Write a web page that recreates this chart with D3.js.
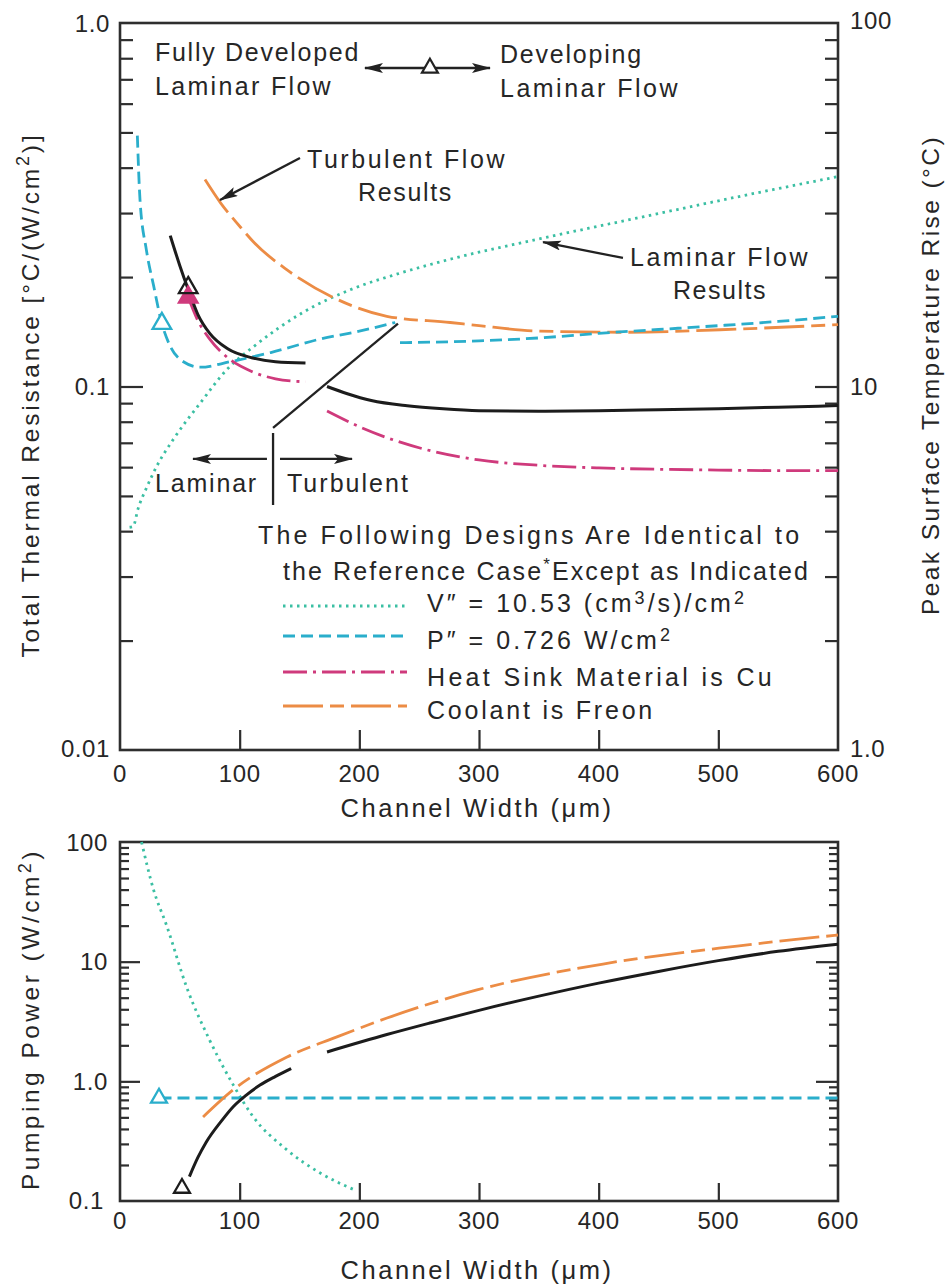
<!DOCTYPE html>
<html>
<head>
<meta charset="utf-8">
<script src="https://cdn.jsdelivr.net/npm/d3@7"></script>
<style>
  body { margin: 0; background: #fff; }
  text { font-family: "Liberation Sans", Arial, Helvetica, sans-serif; fill: #262626; }
</style>
</head>
<body>
<svg id="chart" width="951" height="1287"></svg>
<script>
// ---------------- data ----------------
// channel width axis (µm)
const widthTicks = [0, 100, 200, 300, 400, 500, 600];
const resistanceTicks = [0.01, 0.1, 1];
const resistanceTickLabels = ["0.01", "0.1", "1.0"];
const tempTicks = [1, 10, 100];
const tempTickLabels = ["1.0", "10", "100"];
const powerTicks = [0.1, 1, 10, 100];
const powerTickLabels = ["0.1", "1.0", "10", "100"];

// thermal resistance, reference case, laminar and turbulent branches
const refLamW = [42, 50, 57, 65, 75, 90, 110, 130, 155];
const refLamR = [0.26, 0.215, 0.185, 0.158, 0.140, 0.127, 0.120, 0.117, 0.116];
const refTurbW = [173, 190, 210, 240, 270, 300, 350, 400, 450, 500, 550, 600];
const refTurbR = [0.100, 0.0955, 0.0915, 0.0885, 0.0868, 0.0858, 0.0855, 0.0858, 0.0863, 0.0869, 0.0877, 0.0886];

// heat sink material Cu
const cuLamW = [57, 65, 75, 90, 110, 130, 155];
const cuLamR = [0.176, 0.152, 0.135, 0.120, 0.110, 0.105, 0.103];
const cuTurbW = [173, 200, 230, 260, 300, 350, 400, 450, 500, 550, 600];
const cuTurbR = [0.0856, 0.0775, 0.071, 0.0665, 0.0628, 0.0607, 0.0597, 0.0592, 0.0589, 0.0587, 0.0587];

// fixed pumping power P'' = 0.726 W/cm²
const ppLamW = [14.5, 16.7, 22, 28, 35, 42, 53, 67, 92, 126, 167, 200, 230];
const ppLamR = [0.49, 0.327, 0.238, 0.19, 0.149, 0.129, 0.117, 0.113, 0.117, 0.124, 0.135, 0.142, 0.150];
const ppTurbW = [234, 300, 350, 400, 450, 500, 550, 600];
const ppTurbR = [0.132, 0.1335, 0.136, 0.140, 0.1435, 0.147, 0.151, 0.156];

// fixed flow V'' = 10.53 (cm³/s)/cm²
const vfW = [8, 11, 15, 22, 31, 45, 67, 90, 112, 153, 195, 234, 276, 351, 435, 519, 600];
const vfR = [0.0410, 0.0412, 0.046, 0.0525, 0.0606, 0.0719, 0.090, 0.112, 0.129, 0.160, 0.186, 0.205, 0.224, 0.255, 0.292, 0.334, 0.378];

// coolant Freon
const frW = [71, 84, 100, 112, 139, 181, 223, 276, 300, 351, 421, 519, 600];
const frR = [0.371, 0.32, 0.276, 0.249, 0.21, 0.174, 0.156, 0.150, 0.147, 0.142, 0.141, 0.144, 0.148];

// pumping power (W/cm²)
const refPowLamW = [58, 65, 72, 85, 95, 105, 117, 130, 143];
const refPowLamP = [0.16, 0.23, 0.31, 0.47, 0.62, 0.76, 0.93, 1.10, 1.28];
const refPowTurbW = [173, 223, 260, 300, 350, 400, 450, 500, 550, 600];
const refPowTurbP = [1.76, 2.46, 3.09, 3.92, 5.15, 6.62, 8.29, 10.2, 12.2, 14.0];
const frPowW = [69.4, 94.4, 139.6, 181.3, 223.1, 298.3, 403.6, 515.6, 600];
const frPowP = [0.504, 0.847, 1.597, 2.35, 3.38, 5.80, 9.56, 13.5, 16.7];
const vfPowW = [18, 28, 39, 56, 75, 95, 111, 139, 167, 195];
const vfPowP = [100, 40, 20, 6.0, 2.2, 0.92, 0.51, 0.27, 0.172, 0.125];
const ppPowW = [33, 600];
const ppPowP = [0.726, 0.726];

// design-point markers (channel width, value)
const markersTop = [
  { w: 35, v: 0.149, kind: "pp" },
  { w: 57, v: 0.176, kind: "cu" },
  { w: 57, v: 0.187, kind: "ref" }
];
const markersBottom = [
  { w: 32.6, v: 0.726, kind: "pp" },
  { w: 51.8, v: 0.128, kind: "ref" }
];

// ---------------- styles ----------------
const C = {
  ref: "#1c1c1c",
  cu: "#cf3a7c",
  pp: "#2aaecb",
  vf: "#3bbfa3",
  fr: "#ec8c45",
  axis: "#2e2e2e"
};
const DASH = {
  ref: null,
  cu: "24,6,3,6",
  pp: "12,6",
  vf: "2.5,4.5",
  fr: "40,7,14,7"
};

const svg = d3.select("#chart");
const zip = (ws, vs) => ws.map((w, i) => ({ w, v: vs[i] }));

// spread a text's letters so that it spans the given width
function fit(sel, width) {
  sel.each(function () {
    const n = this.getNumberOfChars();
    const L = this.getComputedTextLength();
    d3.select(this).attr("letter-spacing", ((width - L) / n).toFixed(2));
  });
}

// arrowhead marker
const defs = svg.append("defs");
defs.append("marker")
  .attr("id", "head")
  .attr("markerUnits", "userSpaceOnUse")
  .attr("markerWidth", 20).attr("markerHeight", 12)
  .attr("refX", 18).attr("refY", 5)
  .attr("orient", "auto")
  .append("path").attr("d", "M0,0 L19,5 L0,10 L4,5 Z").attr("fill", "#222");

// ---------------- scales ----------------
const X0 = 120, X1 = 838;
const x = d3.scaleLinear().domain([0, 600]).range([X0, X1]);
const yR = d3.scaleLog().domain([0.01, 1]).range([750, 23]);
const yT = d3.scaleLog().domain([1, 100]).range([750, 23]);
const yP = d3.scaleLog().domain([0.1, 100]).range([1201, 842]);

function minorLog(lo, hi) {
  const out = [];
  for (let d = lo; d < hi; d *= 10) for (let k = 2; k <= 9; k++) out.push(d * k);
  return out;
}

function frame(yTop, yBot) {
  svg.append("rect")
    .attr("x", X0).attr("y", yTop).attr("width", X1 - X0).attr("height", yBot - yTop)
    .attr("fill", "none").attr("stroke", C.axis).attr("stroke-width", 2.6);
}

function ticks(g, axis) {
  g.call(axis);
  g.select(".domain").remove();
  g.selectAll("line").attr("stroke", C.axis).attr("stroke-width", 2.2);
  g.selectAll("text").remove();
}

function tickLabels(values, labels, xf, yf, anchor) {
  svg.append("g").selectAll("text").data(values).join("text")
    .attr("x", (d, i) => xf(d, i)).attr("y", (d, i) => yf(d, i))
    .attr("text-anchor", anchor)
    .attr("dominant-baseline", "central")
    .attr("font-size", 24).attr("letter-spacing", 0.6)
    .text((d, i) => labels[i]);
}

// ================= TOP PANEL =================
frame(23, 750);
ticks(svg.append("g").attr("transform", `translate(${X0},0)`),
  d3.axisLeft(yR).tickValues(minorLog(0.01, 1)).tickSize(-13));
ticks(svg.append("g").attr("transform", `translate(${X0},0)`),
  d3.axisLeft(yR).tickValues([0.1]).tickSize(-23));
ticks(svg.append("g").attr("transform", `translate(${X1},0)`),
  d3.axisRight(yT).tickValues(minorLog(1, 100)).tickSize(-13));
ticks(svg.append("g").attr("transform", `translate(${X1},0)`),
  d3.axisRight(yT).tickValues([10]).tickSize(-23));
ticks(svg.append("g").attr("transform", `translate(0,750)`),
  d3.axisBottom(x).tickValues(widthTicks.slice(1, -1)).tickSize(-20));

tickLabels(resistanceTicks, resistanceTickLabels, () => 110, d => yR(d) - (d === 0.01 ? 2 : 0), "end");
tickLabels(tempTicks, tempTickLabels, () => 850, d => yT(d) - (d === 1 ? 2 : d === 100 ? 3 : 0), "start");
tickLabels(widthTicks, widthTicks.map(String), d => x(d), () => 773, "middle");

// axis titles
const xt1 = svg.append("text").attr("x", 477).attr("y", 808).attr("text-anchor", "middle")
  .attr("dominant-baseline", "central").attr("font-size", 25.5).text("Channel Width  (μm)");
fit(xt1, 273);

const yt1 = svg.append("text").attr("transform", "translate(30,395) rotate(-90)")
  .attr("text-anchor", "middle").attr("dominant-baseline", "central").attr("font-size", 24.5);
yt1.append("tspan").text("Total Thermal Resistance [°C/(W/cm");
yt1.append("tspan").attr("font-size", 18).attr("dy", -7).text("2");
yt1.append("tspan").attr("dy", 7).text(")]");
fit(yt1, 525);

const yt2 = svg.append("text").attr("transform", "translate(930,375) rotate(-90)")
  .attr("text-anchor", "middle").attr("dominant-baseline", "central").attr("font-size", 24.5)
  .text("Peak Surface Temperature Rise (°C)");
fit(yt2, 480);

// curves
const lineTop = d3.line().x(d => x(d.w)).y(d => yR(d.v)).curve(d3.curveMonotoneX);
const plotTop = svg.append("g");
const topSeries = [
  { data: zip(vfW, vfR), k: "vf" },
  { data: zip(frW, frR), k: "fr" },
  { data: zip(ppLamW, ppLamR), k: "pp" },
  { data: zip(ppTurbW, ppTurbR), k: "pp" },
  { data: zip(cuLamW, cuLamR), k: "cu" },
  { data: zip(cuTurbW, cuTurbR), k: "cu" },
  { data: zip(refLamW, refLamR), k: "ref" },
  { data: zip(refTurbW, refTurbR), k: "ref" }
];
plotTop.selectAll("path.series").data(topSeries).join("path")
  .attr("class", "series")
  .attr("d", s => lineTop(s.data))
  .attr("fill", "none")
  .attr("stroke", s => C[s.k])
  .attr("stroke-width", s => s.k === "ref" ? 3 : 2.8)
  .attr("stroke-dasharray", s => DASH[s.k]);

const tri = d3.symbol(d3.symbolTriangle).size(150);
function drawMarkers(list, ys) {
  svg.append("g").selectAll("path").data(list).join("path")
    .attr("d", tri)
    .attr("transform", d => `translate(${x(d.w)},${ys(d.v)})`)
    .attr("fill", d => d.kind === "cu" ? C.cu : (d.kind === "ref" ? "none" : "#fff"))
    .attr("stroke", d => C[d.kind])
    .attr("stroke-width", 2.3);
}
drawMarkers(markersTop, yR);

// annotations (top panel)
const ann = svg.append("g");
function label(txt, px, py, w, anchor = "start", fs = 25) {
  const t = ann.append("text").attr("x", px).attr("y", py).attr("font-size", fs)
    .attr("text-anchor", anchor).text(txt);
  fit(t, w);
  return t;
}
function arrow(w0, v0, w1, v1, ys, head = true) {
  ann.append("line")
    .attr("x1", x(w0)).attr("y1", ys(v0)).attr("x2", x(w1)).attr("y2", ys(v1))
    .attr("stroke", "#222").attr("stroke-width", 2.3)
    .attr("marker-end", head ? "url(#head)" : null);
}

label("Fully Developed", 155, 61, 205);
label("Laminar Flow", 155, 95, 178);
label("Developing", 500, 63, 143);
label("Laminar Flow", 500, 97, 180);
arrow(259, 0.752, 204.7, 0.752, yR);
arrow(259, 0.752, 309.2, 0.752, yR);
ann.append("path").attr("d", tri.size(110))
  .attr("transform", `translate(${x(259)},${yR(0.752)})`)
  .attr("fill", "#fff").attr("stroke", "#222").attr("stroke-width", 2.2);

label("Turbulent Flow", 307, 168, 200);
label("Results", 358, 201, 95);
arrow(150.4, 0.425, 83.6, 0.326, yR);

label("Laminar Flow", 630, 266, 180);
label("Results", 673, 299, 94);
arrow(420.3, 0.2257, 353.5, 0.2497, yR);

// laminar / turbulent divider
arrow(127.9, 0.0745, 127.9, 0.0472, yR, false);
arrow(127.9, 0.0770, 232.3, 0.149, yR, false);
arrow(122.8, 0.0632, 61, 0.0632, yR);
arrow(133.7, 0.0632, 193.9, 0.0632, yR);
label("Laminar", 155, 492, 103);
label("Turbulent", 287, 492, 123);

// legend
label("The Following Designs Are Identical to", 258, 544, 544);
const h2 = ann.append("text").attr("x", 283).attr("y", 580).attr("font-size", 25);
h2.append("tspan").text("the Reference Case");
h2.append("tspan").attr("dy", -10).attr("font-size", 17).text("*");
h2.append("tspan").attr("dy", 10).text("Except as Indicated");
fit(h2, 527);

const legendRows = [
  { k: "vf", ly: 606, ty: 612, w: 320 },
  { k: "pp", ly: 636, ty: 649, w: 246 },
  { k: "cu", ly: 672, ty: 686, w: 348 },
  { k: "fr", ly: 706, ty: 719, w: 228 }
];
const leg = ann.append("g");
legendRows.forEach(r => {
  leg.append("line").attr("x1", 283).attr("x2", 407).attr("y1", r.ly).attr("y2", r.ly)
    .attr("stroke", C[r.k]).attr("stroke-width", 2.8).attr("stroke-dasharray", DASH[r.k]);
  const t = leg.append("text").attr("x", 427).attr("y", r.ty).attr("font-size", 25);
  if (r.k === "vf") {
    t.append("tspan").text("V″ = 10.53 (cm");
    t.append("tspan").attr("dy", -8).attr("font-size", 18).text("3");
    t.append("tspan").attr("dy", 8).text("/s)/cm");
    t.append("tspan").attr("dy", -8).attr("font-size", 18).text("2");
  } else if (r.k === "pp") {
    t.append("tspan").text("P″ = 0.726 W/cm");
    t.append("tspan").attr("dy", -8).attr("font-size", 18).text("2");
  } else if (r.k === "cu") {
    t.text("Heat Sink Material is Cu");
  } else {
    t.text("Coolant is Freon");
  }
  fit(t, r.w);
});

// ================= BOTTOM PANEL =================
frame(842, 1201);
ticks(svg.append("g").attr("transform", `translate(${X0},0)`),
  d3.axisLeft(yP).tickValues(minorLog(0.1, 100)).tickSize(-9));
ticks(svg.append("g").attr("transform", `translate(${X0},0)`),
  d3.axisLeft(yP).tickValues([1, 10]).tickSize(-20));
ticks(svg.append("g").attr("transform", `translate(${X1},0)`),
  d3.axisRight(yP).tickValues(minorLog(0.1, 100)).tickSize(-9));
ticks(svg.append("g").attr("transform", `translate(${X1},0)`),
  d3.axisRight(yP).tickValues([1, 10]).tickSize(-22));
ticks(svg.append("g").attr("transform", `translate(0,1201)`),
  d3.axisBottom(x).tickValues(widthTicks.slice(1, -1)).tickSize(-18));

tickLabels(powerTicks, powerTickLabels, d => d === 0.1 ? 104 : 108, d => yP(d) + (d === 0.1 ? -1 : 0), "end");
tickLabels(widthTicks, widthTicks.map(String), d => x(d), () => 1220, "middle");

const xt2 = svg.append("text").attr("x", 477).attr("y", 1270).attr("text-anchor", "middle")
  .attr("dominant-baseline", "central").attr("font-size", 25.5).text("Channel Width  (μm)");
fit(xt2, 273);

const yt3 = svg.append("text").attr("transform", "translate(30,1019) rotate(-90)")
  .attr("text-anchor", "middle").attr("dominant-baseline", "central").attr("font-size", 24.5);
yt3.append("tspan").text("Pumping Power (W/cm");
yt3.append("tspan").attr("font-size", 18).attr("dy", -5).text("2");
yt3.append("tspan").attr("dy", 5).text(")");
fit(yt3, 342);

const lineBot = d3.line().x(d => x(d.w)).y(d => yP(d.v)).curve(d3.curveMonotoneX);
const botSeries = [
  { data: zip(vfPowW, vfPowP), k: "vf" },
  { data: zip(ppPowW, ppPowP), k: "pp" },
  { data: zip(frPowW, frPowP), k: "fr" },
  { data: zip(refPowLamW, refPowLamP), k: "ref" },
  { data: zip(refPowTurbW, refPowTurbP), k: "ref" }
];
svg.append("g").selectAll("path").data(botSeries).join("path")
  .attr("d", s => lineBot(s.data))
  .attr("fill", "none")
  .attr("stroke", s => C[s.k])
  .attr("stroke-width", s => s.k === "ref" ? 3 : 2.8)
  .attr("stroke-dasharray", s => DASH[s.k]);

drawMarkers(markersBottom, yP);
</script>
</body>
</html>
